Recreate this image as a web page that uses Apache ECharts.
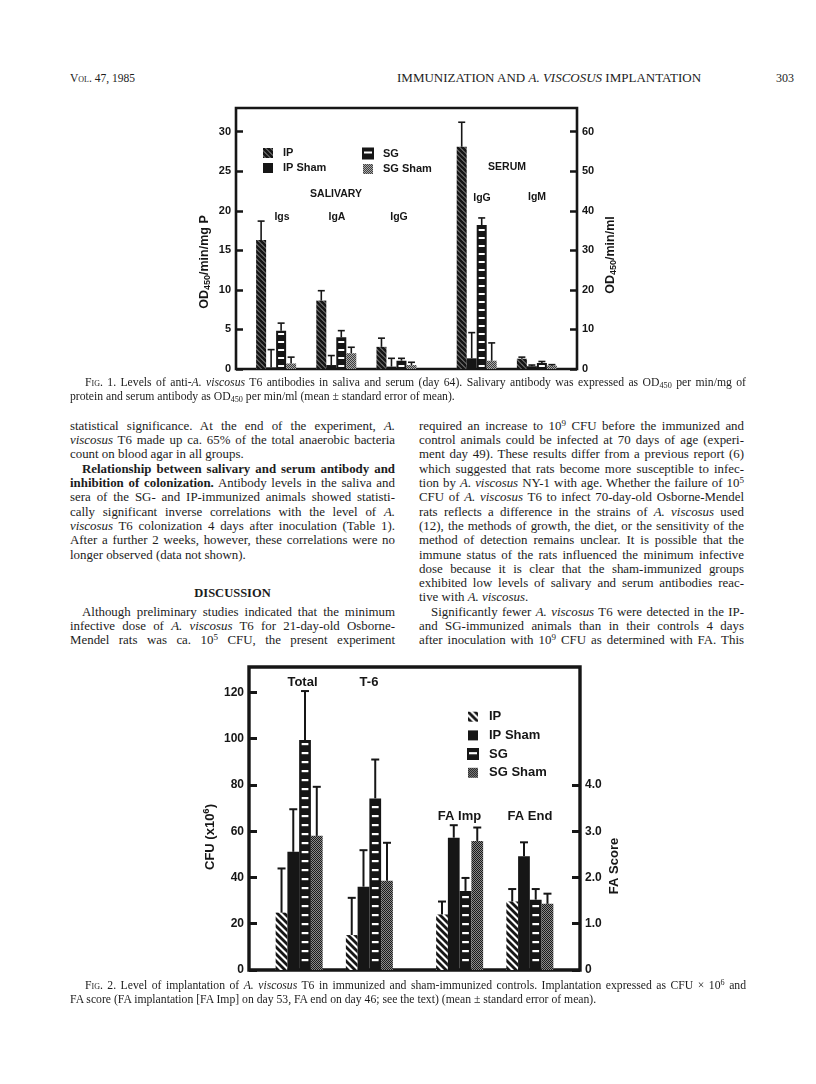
<!DOCTYPE html>
<html>
<head>
<meta charset="utf-8">
<title>Immunization and A. viscosus implantation — Fig. 1 and Fig. 2</title>
<script src="https://cdn.jsdelivr.net/npm/echarts@6.0.0/dist/echarts.min.js"></script>
<style>
html,body{margin:0;padding:0;background:#fff;}
#page{position:relative;width:816px;height:1084px;overflow:hidden;background:#fff;color:#1c1c1c;font-family:"Liberation Serif","Times New Roman",serif;}
.t{position:absolute;overflow:visible;text-align:justify;text-align-last:justify;}
.t.l{text-align:left;text-align-last:left;}
.t.c{text-align:center;text-align-last:center;}
.sc{font-variant:small-caps;}
sub{font-size:0.7em;vertical-align:-0.28em;line-height:0;}
sup{font-size:0.7em;vertical-align:0.45em;line-height:0;}
#fig1{position:absolute;left:0;top:90px;width:816px;height:290px;}
#fig2{position:absolute;left:0;top:650px;width:816px;height:330px;}
</style>
</head>
<body>
<div id="page">
  <div id="fig1"></div>
  <div id="fig2"></div>
</div>
<script>
// ---------------- DATA ----------------
const groupNames = ['IP', 'IP Sham', 'SG', 'SG Sham'];

// Fig. 1 — salivary antibody (OD450/min/mg P), left axis
const salivaryCats = ['Igs', 'IgA', 'IgG'];
const salIP        = [16.3, 8.65, 2.8];
const salIPSe      = [2.4, 1.25, 1.1];
const salIPSham    = [0.2, 0.5, 0.3];
const salIPShamSe  = [2.25, 1.2, 1.05];
const salSG        = [4.85, 4.0, 1.05];
const salSGSe      = [0.95, 0.85, 0.3];
const salSGSham    = [0.7, 2.0, 0.5];
const salSGShamSe  = [0.8, 0.75, 0.35];

// Fig. 1 — serum antibody (OD450/min/ml), right axis
const serumCats    = ['IgG', 'IgM'];
const serIP        = [56.2, 2.6];
const serIPSe      = [6.2, 0.4];
const serIPSham    = [2.7, 0.7];
const serIPShamSe  = [6.5, 0.3];
const serSG        = [36.4, 1.5];
const serSGSe      = [1.8, 0.4];
const serSGSham    = [2.1, 0.85];
const serSGShamSe  = [4.5, 0.25];

// Fig. 2 — CFU (x10^6), left axis
const cfuCats      = ['Total', 'T-6'];
const cfuIP        = [24.8, 15.1];
const cfuIPSe      = [19.1, 16.1];
const cfuIPSham    = [51.1, 36.0];
const cfuIPShamSe  = [18.4, 15.8];
const cfuSG        = [99.4, 74.2];
const cfuSGSe      = [21.2, 16.8];
const cfuSGSham    = [58.0, 38.6];
const cfuSGShamSe  = [21.2, 16.4];

// Fig. 2 — FA score, right axis
const faCats       = ['FA Imp', 'FA End'];
const faIP         = [1.2, 1.48];
const faIPSe       = [0.28, 0.27];
const faIPSham     = [2.86, 2.46];
const faIPShamSe   = [0.27, 0.30];
const faSG         = [1.71, 1.52];
const faSGSe       = [0.28, 0.23];
const faSGSham     = [2.79, 1.43];
const faSGShamSe   = [0.29, 0.22];

// Tick labels
const fig1LeftTicks  = [0, 5, 10, 15, 20, 25, 30];
const fig1RightTicks = [0, 10, 20, 30, 40, 50, 60];
const fig2LeftTicks  = [0, 20, 40, 60, 80, 100, 120];
const fig2RightTicks = [0, 1, 2, 3, 4];

// ---------------- LAYOUT (slots on a fine category axis) ----------------
const F1_SLOTS = 18, F1_SAL_AT = [2, 5, 8], F1_SER_AT = [12, 15];
const F2_SLOTS = 34, F2_CFU_AT = [5, 12], F2_FA_AT = [21, 28];
const INK = '#161616';
const SANS = '"Liberation Sans", Arial, sans-serif';

function axisCats(n, at, names) {
  const a = Array.from({length: n}, (_, i) => '_' + i);
  at.forEach((s, i) => { a[s] = names[i]; });
  return a;
}
function spread(n, at, vals) {
  const a = new Array(n).fill('-');
  at.forEach((s, i) => { a[s] = vals[i]; });
  return a;
}

// ---------------- PATTERNS ----------------
function mk(w, h) { const c = document.createElement('canvas'); c.width = w; c.height = h; return c; }
function hatch(p, lw, bg, fg) {
  const c = mk(p, p), g = c.getContext('2d');
  g.fillStyle = bg; g.fillRect(0, 0, p, p);
  g.strokeStyle = fg; g.lineWidth = lw;
  for (let k = -1; k <= 1; k++) { g.beginPath(); g.moveTo(-p, -p + k * p); g.lineTo(2 * p, 2 * p + k * p); g.stroke(); }
  return {image: c, repeat: 'repeat'};
}
function stripes(p, sw, bg, fg) {
  const c = mk(4, p), g = c.getContext('2d');
  g.fillStyle = bg; g.fillRect(0, 0, 4, p);
  g.fillStyle = fg; g.fillRect(0, Math.round((p - sw) / 2), 4, sw);
  return {image: c, repeat: 'repeat'};
}
function stipple(dark, light) {
  const c = mk(2, 2), g = c.getContext('2d');
  g.fillStyle = light; g.fillRect(0, 0, 2, 2);
  g.fillStyle = dark; g.fillRect(0, 0, 1, 1); g.fillRect(1, 1, 1, 1);
  return {image: c, repeat: 'repeat'};
}

const fig1Styles = [
  {color: hatch(5, 3.1, '#ffffff', INK)},
  {color: INK},
  {color: stripes(8, 2, INK, '#ffffff'), borderColor: INK, borderWidth: 2},
  {color: stipple('#3e3e3e', '#aaaaaa')}
];
const fig2Styles = [
  {color: hatch(7, 2.8, '#ffffff', INK)},
  {color: INK},
  {color: stripes(9, 2.2, INK, '#ffffff'), borderColor: INK, borderWidth: 2.5},
  {color: stipple('#1a1a1a', '#8a8a8a')}
];

function bars(xi, yi, n, at, sets, styles, bw) {
  return sets.map((vals, gi) => ({
    type: 'bar', name: groupNames[gi], xAxisIndex: xi, yAxisIndex: yi,
    barWidth: bw, barGap: '0%', data: spread(n, at, vals),
    itemStyle: styles[gi], emphasis: {disabled: true}, silent: true, z: 2
  }));
}
function errors(xi, yi, at, sets, ses, bw, capW, lw) {
  return sets.map((vals, gi) => ({
    type: 'custom', xAxisIndex: xi, yAxisIndex: yi, silent: true, z: 4,
    data: at.map((s, i) => [s, vals[i], ses[gi][i]]),
    renderItem: function (params, api) {
      const x = api.value(0), m = api.value(1), e = api.value(2);
      const p0 = api.coord([x, m]), p1 = api.coord([x, m + e]);
      const cx = p0[0] + (gi - 1.5) * bw;
      const st = {stroke: INK, lineWidth: lw};
      return {type: 'group', children: [
        {type: 'line', shape: {x1: cx, y1: p0[1], x2: cx, y2: p1[1]}, style: st},
        {type: 'line', shape: {x1: cx - capW / 2, y1: p1[1], x2: cx + capW / 2, y2: p1[1]}, style: st}
      ]};
    }
  }));
}
function yAxisDef(pos, max, interval, ticks, fmt, fs, tickW, tickLen) {
  return {
    type: 'value', position: pos, min: 0, max: max, interval: interval,
    axisLine: {show: false}, splitLine: {show: false},
    axisTick: {show: true, inside: true, length: tickLen, customValues: ticks, lineStyle: {color: INK, width: tickW}},
    axisLabel: {show: true, margin: 5, customValues: ticks, color: INK, fontSize: fs, fontWeight: 'bold', fontFamily: SANS,
      formatter: v => (ticks.indexOf(v) >= 0 ? fmt(v) : '')}
  };
}
function hiddenX(n, at, names) {
  return {type: 'category', data: axisCats(n, at, names), boundaryGap: false,
    axisLine: {show: false}, axisTick: {show: false}, axisLabel: {show: false}, splitLine: {show: false}};
}
function txt(x, y, text, font) {
  return {type: 'text', x: x, y: y, silent: true,
    style: {text: text, font: font, fill: INK, align: 'center', verticalAlign: 'middle'}};
}
function rtxt(x, y, text, rich) {
  return {type: 'text', x: x, y: y, rotation: Math.PI / 2, silent: true,
    style: {text: text, rich: rich, fill: INK, align: 'center', verticalAlign: 'middle'}};
}

// ---------------- FIG. 1 ----------------
const chart1 = echarts.init(document.getElementById('fig1'), null, {renderer: 'canvas'});
const f1Sal = [salIP, salIPSham, salSG, salSGSham];
const f1SalSe = [salIPSe, salIPShamSe, salSGSe, salSGShamSe];
const f1Ser = [serIP, serIPSham, serSG, serSGSham];
const f1SerSe = [serIPSe, serIPShamSe, serSGSe, serSGShamSe];
const rich1 = {
  a: {fontSize: 12.5, fontWeight: 'bold', fontFamily: SANS, color: INK},
  s: {fontSize: 9, fontWeight: 'bold', fontFamily: SANS, color: INK, padding: [6, 0, 0, 0]}
};
const legendText1 = {fontSize: 11, fontWeight: 'bold', fontFamily: SANS, color: INK, lineHeight: 11, padding: [0, 0, 0, 5]};
chart1.setOption({
  animation: false,
  grid: {left: 236, top: 18, width: 341, height: 261, show: true, borderColor: INK, borderWidth: 2.6, backgroundColor: 'rgba(0,0,0,0)', containLabel: false, outerBoundsMode: 'none'},
  xAxis: [hiddenX(F1_SLOTS, F1_SAL_AT, salivaryCats), hiddenX(F1_SLOTS, F1_SER_AT, serumCats)],
  yAxis: [
    yAxisDef('left', 33, 5, fig1LeftTicks, v => String(v), 11, 2.5, 7),
    yAxisDef('right', 66, 10, fig1RightTicks, v => String(v), 11, 2.5, 7)
  ],
  legend: [
    {data: ['IP', 'IP Sham'], orient: 'vertical', left: 258, top: 52.5, icon: 'rect', itemWidth: 10, itemHeight: 10, itemGap: 4, selectedMode: false, textStyle: legendText1},
    {data: ['SG', 'SG Sham'], orient: 'vertical', left: 357, top: 52.5, icon: 'rect', itemWidth: 10, itemHeight: 10, itemGap: 4, selectedMode: false, textStyle: legendText1}
  ],
  series: [].concat(
    bars(0, 0, F1_SLOTS, F1_SAL_AT, f1Sal, fig1Styles, 10),
    bars(1, 1, F1_SLOTS, F1_SER_AT, f1Ser, fig1Styles, 10),
    errors(0, 0, F1_SAL_AT, f1Sal, f1SalSe, 10, 7, 1.6),
    errors(1, 1, F1_SER_AT, f1Ser, f1SerSe, 10, 7, 1.6)
  ),
  graphic: [
    txt(336, 104, 'SALIVARY', 'bold 10.5px ' + SANS),
    txt(282, 127.5, 'Igs', 'bold 10.5px ' + SANS),
    txt(337, 127.5, 'IgA', 'bold 10.5px ' + SANS),
    txt(399, 127.5, 'IgG', 'bold 10.5px ' + SANS),
    txt(507, 77, 'SERUM', 'bold 10.5px ' + SANS),
    txt(482, 108, 'IgG', 'bold 10.5px ' + SANS),
    txt(537, 107.5, 'IgM', 'bold 10.5px ' + SANS),
    rtxt(205, 172, '{a|OD}{s|450}{a|/min/mg P}', rich1),
    rtxt(611, 165, '{a|OD}{s|450}{a|/min/ml}', rich1)
  ]
});

// ---------------- FIG. 2 ----------------
const chart2 = echarts.init(document.getElementById('fig2'), null, {renderer: 'canvas'});
const f2Cfu = [cfuIP, cfuIPSham, cfuSG, cfuSGSham];
const f2CfuSe = [cfuIPSe, cfuIPShamSe, cfuSGSe, cfuSGShamSe];
const f2Fa = [faIP, faIPSham, faSG, faSGSham];
const f2FaSe = [faIPSe, faIPShamSe, faSGSe, faSGShamSe];
const rich2 = {
  a: {fontSize: 13, fontWeight: 'bold', fontFamily: SANS, color: INK},
  p: {fontSize: 9.5, fontWeight: 'bold', fontFamily: SANS, color: INK, padding: [0, 0, 7, 0]}
};
chart2.setOption({
  animation: false,
  grid: {left: 249, top: 17, width: 331, height: 303, show: true, borderColor: INK, borderWidth: 3.4, backgroundColor: 'rgba(0,0,0,0)', containLabel: false, outerBoundsMode: 'none'},
  xAxis: [hiddenX(F2_SLOTS, F2_CFU_AT, cfuCats), hiddenX(F2_SLOTS, F2_FA_AT, faCats)],
  yAxis: [
    yAxisDef('left', 131, 20, fig2LeftTicks, v => String(v), 12, 3, 8),
    yAxisDef('right', 6.55, 1, fig2RightTicks, v => (v === 0 ? '0' : v.toFixed(1)), 12, 3, 8)
  ],
  legend: [
    {data: groupNames, orient: 'vertical', left: 462, top: 55.2, icon: 'rect', itemWidth: 10, itemHeight: 10, itemGap: 5.7, selectedMode: false,
      textStyle: {fontSize: 13, fontWeight: 'bold', fontFamily: SANS, color: INK, lineHeight: 13, padding: [0, 0, 0, 6]}}
  ],
  series: [].concat(
    bars(0, 0, F2_SLOTS, F2_CFU_AT, f2Cfu, fig2Styles, 11.75),
    bars(1, 1, F2_SLOTS, F2_FA_AT, f2Fa, fig2Styles, 11.75),
    errors(0, 0, F2_CFU_AT, f2Cfu, f2CfuSe, 11.75, 8, 2),
    errors(1, 1, F2_FA_AT, f2Fa, f2FaSe, 11.75, 8, 2)
  ),
  graphic: [
    txt(302.5, 32.7, 'Total', 'bold 13px ' + SANS),
    txt(369, 32.7, 'T-6', 'bold 13px ' + SANS),
    txt(459.5, 166.7, 'FA Imp', 'bold 13px ' + SANS),
    txt(530, 166.7, 'FA End', 'bold 13px ' + SANS),
    rtxt(210, 187, '{a|CFU (x10}{p|6}{a|)}', rich2),
    rtxt(614, 216, '{a|FA Score}', rich2)
  ]
});

// ---------------- PAGE TEXT ----------------
const page = document.getElementById('page');
function line(html, x, yc, w, size, lh, cls) {
  const d = document.createElement('div');
  d.className = 't' + (cls ? ' ' + cls : '');
  d.style.left = x + 'px'; d.style.top = (yc - lh / 2) + 'px'; d.style.width = w + 'px';
  d.style.fontSize = size + 'px'; d.style.lineHeight = lh + 'px';
  d.innerHTML = html;
  page.appendChild(d);
  let s = size;
  while (d.scrollHeight > lh * 1.5 && s > 7) { s -= 0.1; d.style.fontSize = s + 'px'; }
  return d;
}

// running head
line('<span class="sc">Vol.</span> 47, 1985', 70, 78, 200, 11.5, 14, 'l');
line('IMMUNIZATION AND <i>A. VISCOSUS</i> IMPLANTATION', 397, 78, 340, 13, 14, 'l');
line('303', 776, 78, 40, 12, 14, 'l');

// figure captions
line('<span class="sc">Fig.</span> 1. Levels of anti-<i>A. viscosus</i> T6 antibodies in saliva and serum (day 64). Salivary antibody was expressed as OD<sub>450</sub> per min/mg of', 85, 383, 661, 11.7, 14);
line('protein and serum antibody as OD<sub>450</sub> per min/ml (mean ± standard error of mean).', 70, 397, 676, 11.7, 14, 'l');
line('<span class="sc">Fig.</span> 2. Level of implantation of <i>A. viscosus</i> T6 in immunized and sham-immunized controls. Implantation expressed as CFU × 10<sup>6</sup> and', 85, 986, 661, 11.7, 14);
line('FA score (FA implantation [FA Imp] on day 53, FA end on day 46; see the text) (mean ± standard error of mean).', 70, 1000, 676, 11.7, 14, 'l');

// body columns
const Y0 = 426, LH = 14.3, COLW = 325, LX = 70, RX = 419, IND = 12, FS = 12.9;
const leftCol = [
  [0, 'statistical significance. At the end of the experiment, <i>A.</i>', 0, ''],
  [1, '<i>viscosus</i> T6 made up ca. 65% of the total anaerobic bacteria', 0, ''],
  [2, 'count on blood agar in all groups.', 0, 'l'],
  [3, '<b>Relationship between salivary and serum antibody and</b>', IND, ''],
  [4, '<b>inhibition of colonization.</b> Antibody levels in the saliva and', 0, ''],
  [5, 'sera of the SG- and IP-immunized animals showed statisti-', 0, ''],
  [6, 'cally significant inverse correlations with the level of <i>A.</i>', 0, ''],
  [7, '<i>viscosus</i> T6 colonization 4 days after inoculation (Table 1).', 0, ''],
  [8, 'After a further 2 weeks, however, these correlations were no', 0, ''],
  [9, 'longer observed (data not shown).', 0, 'l'],
  [11.7, '<b>DISCUSSION</b>', 0, 'c'],
  [13, 'Although preliminary studies indicated that the minimum', IND, ''],
  [14, 'infective dose of <i>A. viscosus</i> T6 for 21-day-old Osborne-', 0, ''],
  [15, 'Mendel rats was ca. 10<sup>5</sup> CFU, the present experiment', 0, '']
];
const rightCol = [
  [0, 'required an increase to 10<sup>9</sup> CFU before the immunized and', 0, ''],
  [1, 'control animals could be infected at 70 days of age (experi-', 0, ''],
  [2, 'ment day 49). These results differ from a previous report (6)', 0, ''],
  [3, 'which suggested that rats become more susceptible to infec-', 0, ''],
  [4, 'tion by <i>A. viscosus</i> NY-1 with age. Whether the failure of 10<sup>5</sup>', 0, ''],
  [5, 'CFU of <i>A. viscosus</i> T6 to infect 70-day-old Osborne-Mendel', 0, ''],
  [6, 'rats reflects a difference in the strains of <i>A. viscosus</i> used', 0, ''],
  [7, '(12), the methods of growth, the diet, or the sensitivity of the', 0, ''],
  [8, 'method of detection remains unclear. It is possible that the', 0, ''],
  [9, 'immune status of the rats influenced the minimum infective', 0, ''],
  [10, 'dose because it is clear that the sham-immunized groups', 0, ''],
  [11, 'exhibited low levels of salivary and serum antibodies reac-', 0, ''],
  [12, 'tive with <i>A. viscosus</i>.', 0, 'l'],
  [13, 'Significantly fewer <i>A. viscosus</i> T6 were detected in the IP-', IND, ''],
  [14, 'and SG-immunized animals than in their controls 4 days', 0, ''],
  [15, 'after inoculation with 10<sup>9</sup> CFU as determined with FA. This', 0, '']
];
leftCol.forEach(r => line(r[1], LX + r[2], Y0 + r[0] * LH, COLW - r[2], r[3] === 'c' ? 12.5 : FS, LH, r[3]));
rightCol.forEach(r => line(r[1], RX + r[2], Y0 + r[0] * LH, COLW - r[2], FS, LH, r[3]));
</script>
</body>
</html>
